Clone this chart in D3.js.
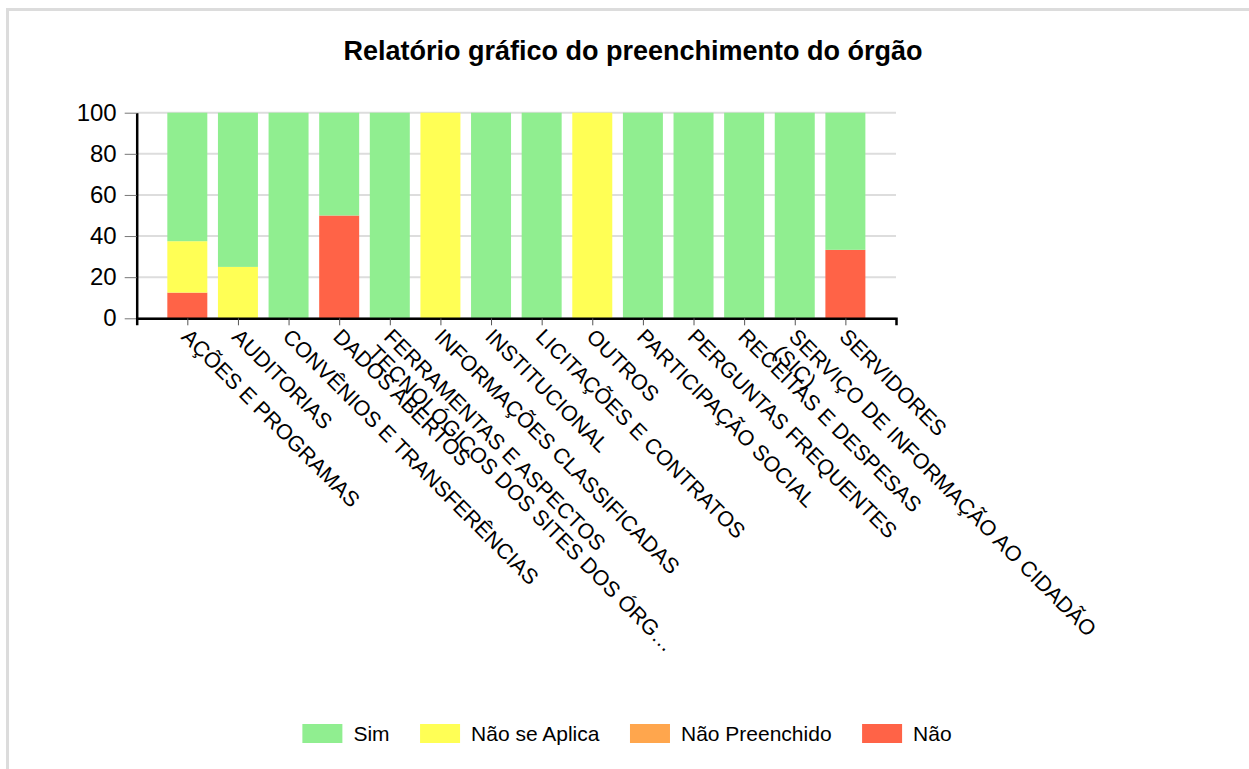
<!DOCTYPE html>
<html>
<head>
<meta charset="utf-8">
<script src="https://cdn.jsdelivr.net/npm/d3@7"></script>
<style>
  body { margin: 0; background: #fff; }
  svg { display: block; font-family: Arial, "Liberation Sans", sans-serif; }
</style>
</head>
<body>
<svg id="chart" width="1249" height="769"></svg>
<script>
"use strict";

const title = "Relatório gráfico do preenchimento do órgão";

const categories = [
    "AÇÕES E PROGRAMAS",
    "AUDITORIAS",
    "CONVÊNIOS E TRANSFERÊNCIAS",
    "DADOS ABERTOS",
    "FERRAMENTAS E ASPECTOS TECNOLÓGICOS DOS SITES DOS ÓRGÃOS",
    "INFORMAÇÕES CLASSIFICADAS",
    "INSTITUCIONAL",
    "LICITAÇÕES E CONTRATOS",
    "OUTROS",
    "PARTICIPAÇÃO SOCIAL",
    "PERGUNTAS FREQUENTES",
    "RECEITAS E DESPESAS",
    "SERVIÇO DE INFORMAÇÃO AO CIDADÃO (SIC)",
    "SERVIDORES"
];

// tick labels as they are broken on the picture
const tickLabels = [
    ["AÇÕES E PROGRAMAS"],
    ["AUDITORIAS"],
    ["CONVÊNIOS E TRANSFERÊNCIAS"],
    ["DADOS ABERTOS"],
    ["FERRAMENTAS E ASPECTOS", "TECNOLÓGICOS DOS SITES DOS ÓRG…"],
    ["INFORMAÇÕES CLASSIFICADAS"],
    ["INSTITUCIONAL"],
    ["LICITAÇÕES E CONTRATOS"],
    ["OUTROS"],
    ["PARTICIPAÇÃO SOCIAL"],
    ["PERGUNTAS FREQUENTES"],
    ["RECEITAS E DESPESAS"],
    ["SERVIÇO DE INFORMAÇÃO AO CIDADÃO", "(SIC)"],
    ["SERVIDORES"]
];

const simValues           = [62.5, 75, 100, 50, 100, 0, 100, 100, 0, 100, 100, 100, 100, 66.7];
const naoSeAplicaValues   = [25, 25, 0, 0, 0, 100, 0, 0, 100, 0, 0, 0, 0, 0];
const naoPreenchidoValues = [0, 0, 0, 0, 0, 0, 0, 0, 0, 0, 0, 0, 0, 0];
const naoValues           = [12.5, 0, 0, 50, 0, 0, 0, 0, 0, 0, 0, 0, 0, 33.3];

const yTicks = [0, 20, 40, 60, 80, 100];

const seriesNames  = ["Sim", "Não se Aplica", "Não Preenchido", "Não"];
const seriesColors = ["#90ee90", "#ffff55", "#ffa64d", "#ff6347"];

{
    const svg = d3.select("#chart"),
        left = 136.7,
        right = 896,
        top = 112.7,
        bottom = 318.3;

    // light frame of the panel
    svg.append("rect")
        .attr("x", 7.5).attr("y", 9.5)
        .attr("width", 1400).attr("height", 900)
        .attr("fill", "none")
        .attr("stroke", "#dcdcdc")
        .attr("stroke-width", 3);

    svg.append("text")
        .attr("x", 633).attr("y", 60)
        .attr("text-anchor", "middle")
        .style("font-size", "27px")
        .style("font-weight", "bold")
        .text(title);

    const rows = categories.map((c, i) => ({
        cat: c,
        "Sim": simValues[i],
        "Não se Aplica": naoSeAplicaValues[i],
        "Não Preenchido": naoPreenchidoValues[i],
        "Não": naoValues[i]
    }));

    const x = d3.scalePoint().domain(categories).range([left, right]).padding(1);
    const y = d3.scaleLinear().domain([0, 100]).range([bottom, top]);
    const color = d3.scaleOrdinal().domain(seriesNames).range(seriesColors);
    const barW = x.step() * 0.79;

    // gridlines
    svg.append("g")
        .selectAll("line")
        .data(yTicks)
        .join("line")
        .attr("x1", left).attr("x2", right)
        .attr("y1", d => y(d)).attr("y2", d => y(d))
        .attr("stroke", "#dddddd")
        .attr("stroke-width", 2);

    const stacked = d3.stack()
        .keys(["Não", "Não Preenchido", "Não se Aplica", "Sim"])(rows);

    svg.append("g")
        .selectAll("g")
        .data(stacked)
        .join("g")
        .attr("fill", d => color(d.key))
        .selectAll("rect")
        .data(d => d)
        .join("rect")
        .attr("x", d => x(d.data.cat) - barW / 2)
        .attr("y", d => y(d[1]))
        .attr("width", barW)
        .attr("height", d => y(d[0]) - y(d[1]));

    // y axis
    const yAxis = svg.append("g")
        .attr("transform", `translate(${left},0)`)
        .call(d3.axisLeft(y).tickValues(yTicks).tickSize(12).tickSizeOuter(0).tickPadding(8));
    yAxis.select(".domain").attr("stroke", "#000").attr("stroke-width", 2.5);
    yAxis.selectAll(".tick line").attr("stroke", "#777");
    yAxis.selectAll(".tick text")
        .attr("fill", "#000")
        .style("font-size", "24px")
        .style("font-family", "Arial, 'Liberation Sans', sans-serif");

    // x axis
    const xAxis = svg.append("g")
        .attr("transform", `translate(0,${bottom})`)
        .call(d3.axisBottom(x).tickSize(7).tickSizeOuter(7).tickFormat(""));
    xAxis.select(".domain").attr("stroke", "#000").attr("stroke-width", 2.5);
    xAxis.selectAll(".tick line").attr("stroke", "#555");
    xAxis.selectAll(".tick text").remove();

    svg.append("g")
        .selectAll("text")
        .data(categories)
        .join("text")
        .attr("transform", d => `translate(${x(d)},${bottom}) rotate(45)`)
        .attr("x", 9)
        .attr("y", 19)
        .style("font-size", "21.5px")
        .attr("fill", "#000")
        .each(function (d, i) {
            d3.select(this).selectAll("tspan")
                .data(tickLabels[i])
                .join("tspan")
                .attr("x", 9)
                .attr("dy", (t, j) => j ? "1.05em" : 0)
                .text(t => t);
        });

    // legend
    const legend = svg.append("g").attr("transform", "translate(0,724)");
    const items = legend.selectAll("g")
        .data(seriesNames)
        .join("g");
    items.append("rect")
        .attr("width", 40).attr("height", 19)
        .attr("fill", d => color(d));
    items.append("text")
        .attr("x", 51).attr("y", 17)
        .style("font-size", "21px")
        .attr("fill", "#000")
        .text(d => d);

    const widths = [];
    items.each(function () {
        widths.push(51 + d3.select(this).select("text").node().getComputedTextLength());
    });
    const gap = 30.5,
        total = d3.sum(widths) + gap * (widths.length - 1);
    let pos = 627 - total / 2;
    items.attr("transform", (d, i) => {
        const t = `translate(${pos},0)`;
        pos += widths[i] + gap;
        return t;
    });
}
</script>
</body>
</html>
